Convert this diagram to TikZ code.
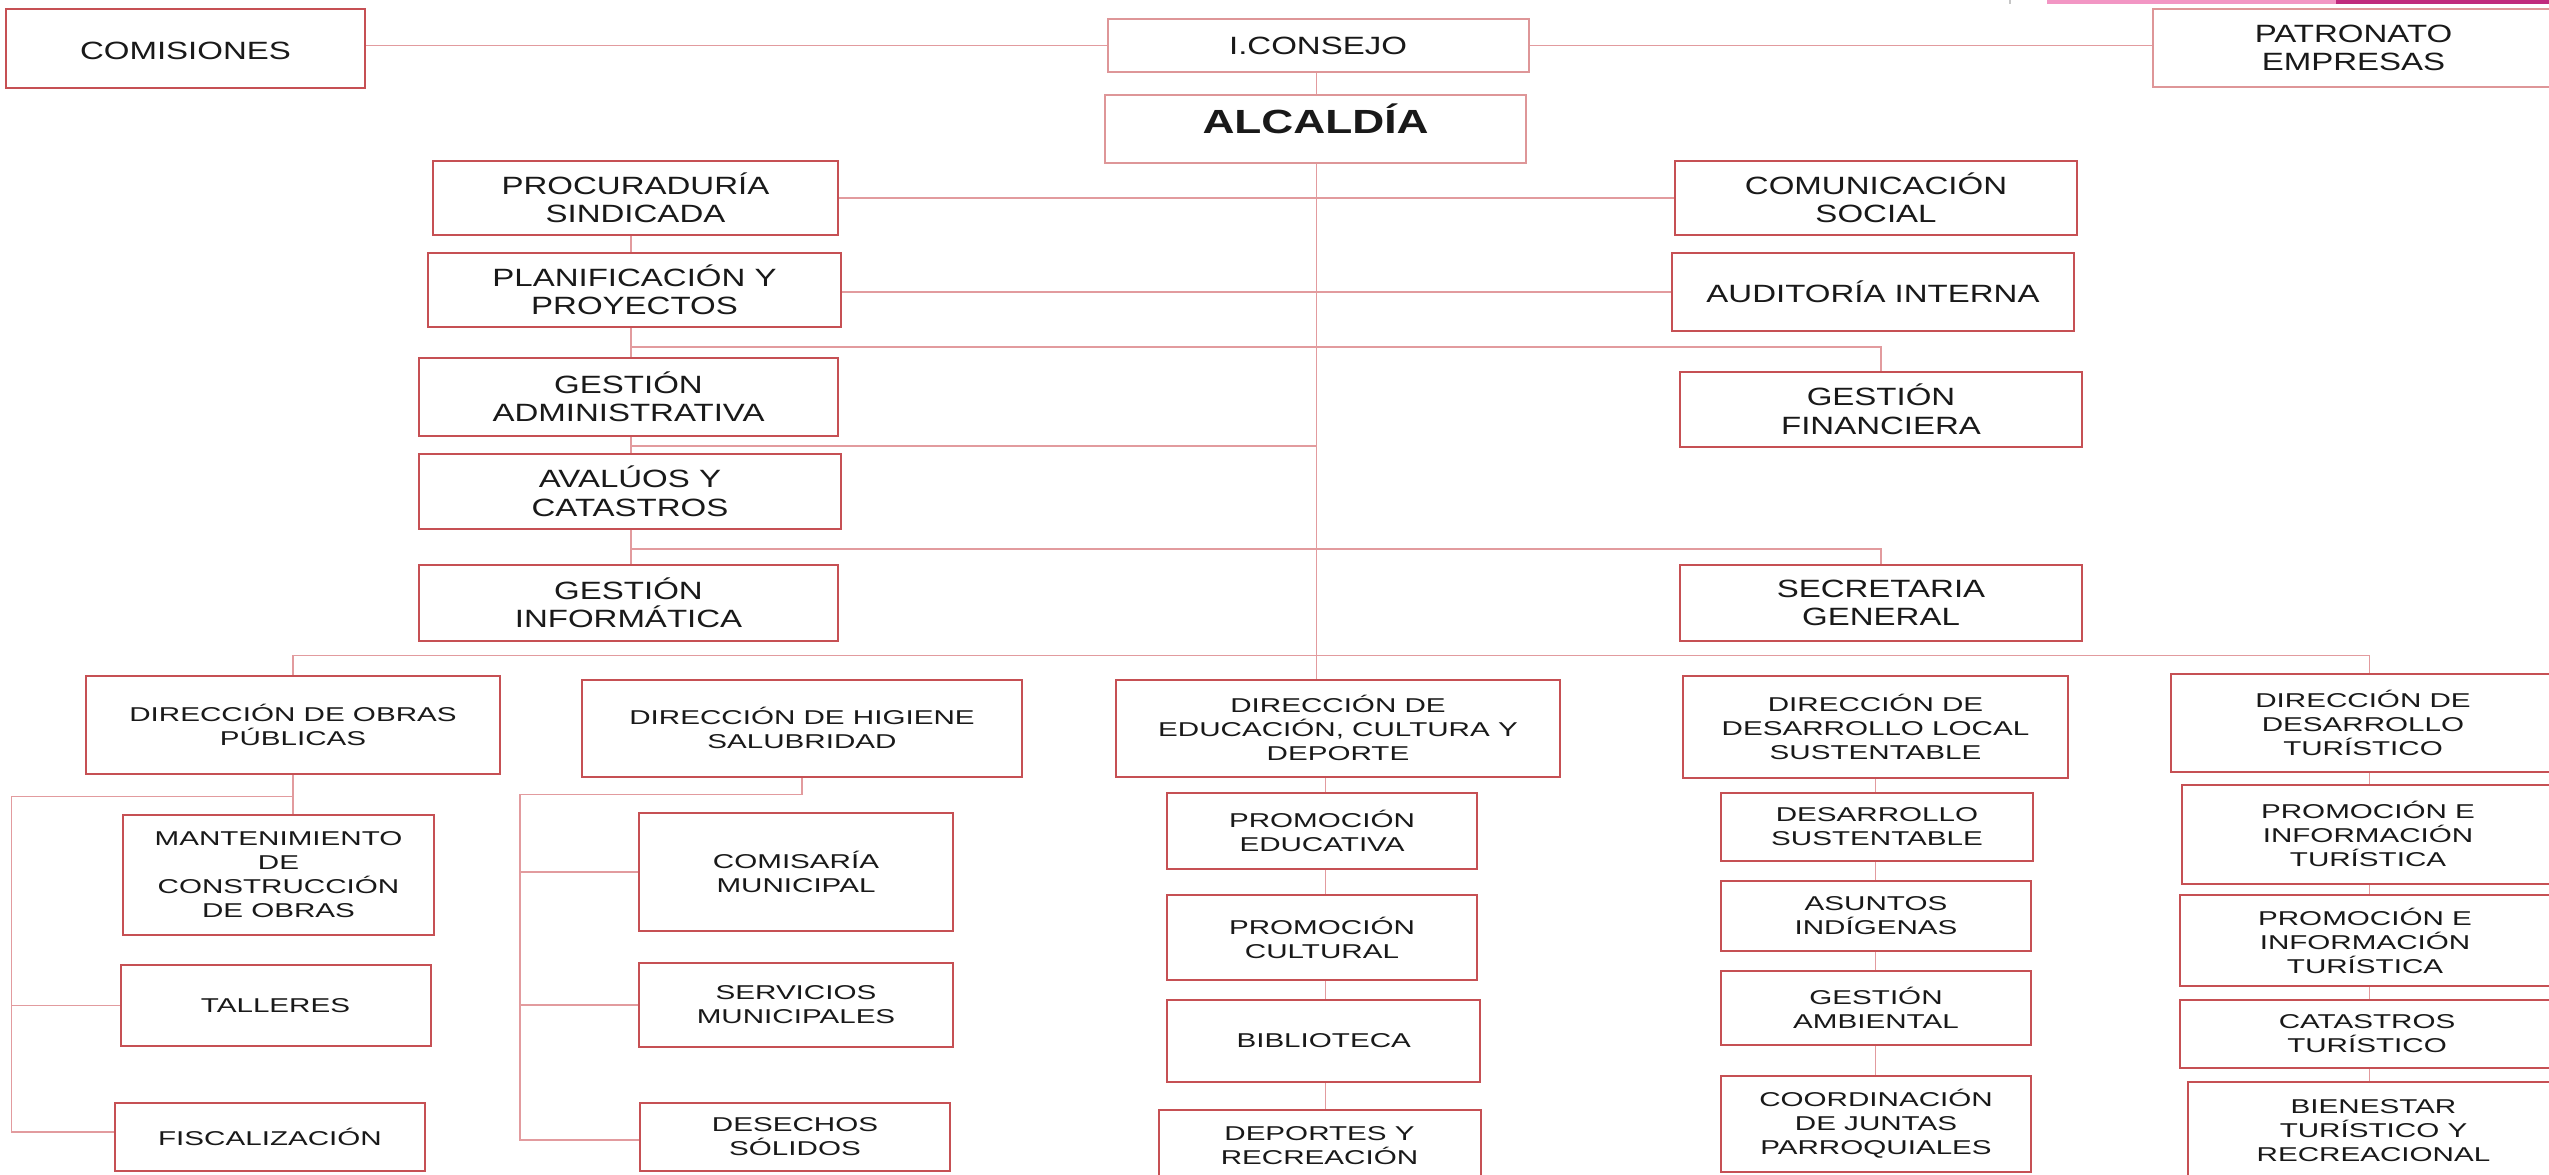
\documentclass[tikz,border=0pt]{standalone}
\usepackage{fontspec}
\usetikzlibrary{backgrounds}
\newfontfamily\topf[FakeStretch=1.32]{Liberation Sans}
\newfontfamily\lowf[FakeStretch=1.48]{Liberation Sans}
\definecolor{boxred}{RGB}{198,80,84}
\definecolor{boxpink}{RGB}{222,150,152}
\definecolor{connc}{RGB}{226,155,158}
\definecolor{txt}{RGB}{25,25,25}
\definecolor{barpink}{RGB}{242,150,196}
\definecolor{barmag}{RGB}{192,42,125}
\tikzset{
  basebox/.style={draw=boxred, line width=2pt, fill=white, rectangle, inner sep=0pt, align=center, text=txt},
  tbox/.style={basebox, font=\topf\fontsize{25}{28.5}\selectfont},
  tboxl/.style={tbox, draw=boxpink},
  lbox/.style={basebox, font=\lowf\fontsize{20}{24}\selectfont},
  conn/.style={draw=connc, line width=1.7pt},
  sz/.style 2 args={minimum width=#1pt, minimum height=#2pt}
}
\begin{document}
\begin{tikzpicture}[x=1pt,y=-1pt]
\useasboundingbox (0,0) rectangle (2549,1175);
\clip (0,0) rectangle (2549,1175);
% top bar
\fill[barpink] (2047,0) rectangle (2336,3.5);
\fill[barmag] (2336,0) rectangle (2549,3.5);
\fill[gray!45] (2009,0) rectangle (2010.5,3.5);
% top level
\node[tbox, sz={359}{79}] (com) at (185.5,48.5) {\raisebox{-11pt}[0pt][0pt]{COMISIONES}};
\node[tboxl, sz={421}{53}] (cons) at (1318,45.5) {I.CONSEJO};
\node[tboxl, sz={401}{78}] (pat) at (2353.5,48) {PATRONATO\\EMPRESAS};
\node[tboxl, sz={421}{68}, font=\topf\bfseries\fontsize{33.5}{36}\selectfont] (alc) at (1315.5,129) {\raisebox{-4.5pt}[0pt][0pt]{ALCALDÍA}};
% left column
\node[tbox, sz={405}{74}] (proc) at (635.5,198) {PROCURADURÍA\\SINDICADA};
\node[tbox, sz={413}{74}] (plan) at (634.5,290) {PLANIFICACIÓN Y\\PROYECTOS};
\node[tbox, sz={419}{78}] (gadm) at (628.5,397) {GESTIÓN\\ADMINISTRATIVA};
\node[tbox, sz={422}{75}] (aval) at (630,491.5) {AVALÚOS Y\\CATASTROS};
\node[tbox, sz={419}{76}] (ginf) at (628.5,603) {GESTIÓN\\INFORMÁTICA};
% right column
\node[tbox, sz={402}{74}] (comu) at (1876,198) {COMUNICACIÓN\\SOCIAL};
\node[tbox, sz={402}{78}] (aud) at (1873,292) {AUDITORÍA INTERNA};
\node[tbox, sz={402}{75}] (gfin) at (1881,409.5) {GESTIÓN\\FINANCIERA};
\node[tbox, sz={402}{76}] (secr) at (1881,603) {SECRETARIA\\GENERAL};
% lower: obras
\node[lbox, sz={414}{98.5}] (obras) at (293,725) {DIRECCIÓN DE OBRAS\\PÚBLICAS};
\node[lbox, sz={311}{120}] (mant) at (278.5,875) {MANTENIMIENTO\\DE\\CONSTRUCCIÓN\\DE OBRAS};
\node[lbox, sz={310}{81}] (tall) at (275.5,1005.5) {TALLERES};
\node[lbox, sz={310.5}{68}] (fisc) at (270,1137) {FISCALIZACIÓN};
% higiene
\node[lbox, sz={440}{96.6}] (hig) at (802,728.3) {DIRECCIÓN DE HIGIENE\\SALUBRIDAD};
\node[lbox, sz={313.5}{117.6}] (comi) at (796,872) {COMISARÍA\\MUNICIPAL};
\node[lbox, sz={313.5}{84.5}] (serv) at (796,1005) {SERVICIOS\\MUNICIPALES};
\node[lbox, sz={310.5}{68}] (dese) at (795,1137) {DESECHOS\\SÓLIDOS};
% educacion
\node[lbox, sz={444}{96.6}] (educ) at (1338,728.3) {DIRECCIÓN DE\\EDUCACIÓN, CULTURA Y\\DEPORTE};
\node[lbox, sz={310}{76}] (pedu) at (1322,831) {PROMOCIÓN\\EDUCATIVA};
\node[lbox, sz={310}{85}] (pcul) at (1322,937.5) {PROMOCIÓN\\CULTURAL};
\node[lbox, sz={313.5}{82}] (bibl) at (1323.7,1041) {BIBLIOTECA};
\node[lbox, sz={322}{72}] (dep) at (1319.5,1146) {DEPORTES Y\\RECREACIÓN};
% desarrollo local
\node[lbox, sz={385}{102}] (dl) at (1875.5,727) {DIRECCIÓN DE\\DESARROLLO LOCAL\\SUSTENTABLE};
\node[lbox, sz={312}{68}] (dsus) at (1877,827) {DESARROLLO\\SUSTENTABLE};
\node[lbox, sz={310}{70}] (asun) at (1876,916) {ASUNTOS\\INDÍGENAS};
\node[lbox, sz={310}{74}] (gamb) at (1876,1008) {GESTIÓN\\AMBIENTAL};
\node[lbox, sz={310}{96}] (coord) at (1876,1124) {COORDINACIÓN\\DE JUNTAS\\PARROQUIALES};
% turistico
\node[lbox, sz={384}{98}] (tur) at (2363,723) {DIRECCIÓN DE\\DESARROLLO\\TURÍSTICO};
\node[lbox, sz={372}{99}] (pin1) at (2368,834) {PROMOCIÓN E\\INFORMACIÓN\\TURÍSTICA};
\node[lbox, sz={371}{90.4}] (pin2) at (2365,940.6) {PROMOCIÓN E\\INFORMACIÓN\\TURÍSTICA};
\node[lbox, sz={375}{67.3}] (cat) at (2367,1034) {CATASTROS\\TURÍSTICO};
\node[lbox, sz={371}{98}] (bien) at (2373.5,1131) {BIENESTAR\\TURÍSTICO Y\\RECREACIONAL};
% coordinates
\coordinate (mvx) at (1316.5,0);
\coordinate (lvx) at (631,0);
\coordinate (evx) at (1325.5,0);
\coordinate (tvx) at (2369.4,0);
\coordinate (j1) at (0,347);
\coordinate (j2) at (0,446);
\coordinate (j3) at (0,549);
\coordinate (bus) at (0,655.5);
\coordinate (oj) at (11.4,796.6);
\coordinate (ob) at (11.4,1132);
\coordinate (hj) at (519.7,794.6);
\coordinate (hb) at (519.7,1140);
\begin{pgfonlayer}{background}
\fill[white] (0,0) rectangle (2549,1175);
\draw[conn] (cons.west) -- (cons.west -| com.east);
\draw[conn] (cons.east) -- (cons.east -| pat.west);
\draw[conn] (mvx |- cons.south) -- (mvx |- alc.north);
\draw[conn] (mvx |- alc.south) -- (mvx |- educ.north);
\draw[conn] (proc.east) -- (proc.east -| comu.west);
\draw[conn] (aud.west) -- (aud.west -| plan.east);
\draw[conn] (lvx |- proc.south) -- (lvx |- ginf.north);
\draw[conn] (lvx |- j1) -| (gfin.north);
\draw[conn] (lvx |- j2) -- (mvx |- j2);
\draw[conn] (lvx |- j3) -| (secr.north);
\draw[conn] (obras.north) -- (obras.north |- bus) -- (tvx |- bus) -- (tvx |- tur.north);
\draw[conn] (obras.south) -- (obras.south |- mant.north);
\draw[conn] (obras.south |- oj) -- (oj) -- (ob) -- (ob -| fisc.west);
\draw[conn] (oj |- tall.west) -- (tall.west);
\draw[conn] (hig.south) |- (hj) -- (hb) -- (hb -| dese.west);
\draw[conn] (hj |- comi.west) -- (comi.west);
\draw[conn] (hj |- serv.west) -- (serv.west);
\draw[conn] (evx |- educ.south) -- (evx |- dep.north);
\draw[conn] (dl.south) -- (dl.south |- coord.north);
\draw[conn] (tvx |- tur.south) -- (tvx |- bien.north);
\end{pgfonlayer}
\end{tikzpicture}
\end{document}
